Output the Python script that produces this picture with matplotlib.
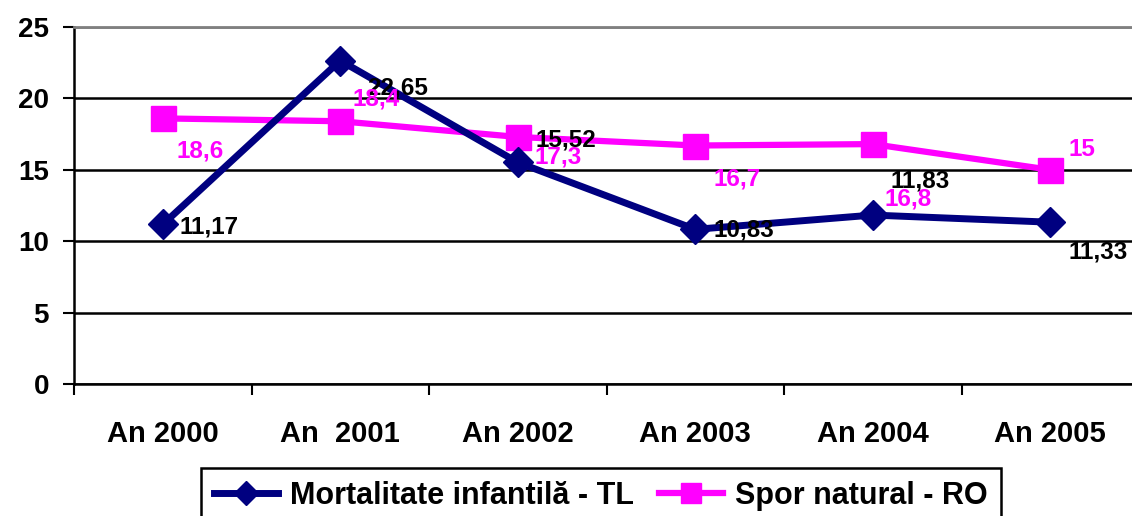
import matplotlib
matplotlib.use("Agg")
import matplotlib.pyplot as plt
from matplotlib.ticker import FixedLocator

# ---- data ----
categories = ["An 2000", "An  2001", "An 2002", "An 2003", "An 2004", "An 2005"]
mortalitate = [11.17, 22.65, 15.52, 10.83, 11.83, 11.33]
spor = [18.6, 18.4, 17.3, 16.7, 16.8, 15.0]
mort_labels = ["11,17", "22,65", "15,52", "10,83", "11,83", "11,33"]
spor_labels = ["18,6", "18,4", "17,3", "16,7", "16,8", "15"]
series_names = ["Mortalitate infantilă - TL", "Spor natural - RO"]
y_ticks = [0, 5, 10, 15, 20, 25]

# label offsets in pixels (text left edge, vertical centre) relative to point
mort_off = [(17, 0), (27, -25), (18, 25), (18, 2), (18, 37), (18, -27)]
spor_off = [(14, -30), (12, 25), (17, -18), (18, -31), (12, -52), (18, 23)]

NAVY = "#000080"
PINK = "#FF00FF"
FONT = "Liberation Sans"

W, H = 1132, 516
fig = plt.figure(figsize=(W / 100, H / 100), dpi=100)
plt.rcParams["font.family"] = [FONT, "DejaVu Sans"]

left_px, right_px, top_px, bot_px = 74, 1139, 27, 384
ax = fig.add_axes([left_px / W, 1 - bot_px / H, (right_px - left_px) / W, (bot_px - top_px) / H])

x = list(range(len(categories)))
ax.plot(x, mortalitate, color=NAVY, lw=5, marker="D", ms=15.5, mfc=NAVY, mec=NAVY,
        label=series_names[0], zorder=4, clip_on=False)
ax.plot(x, spor, color=PINK, lw=4.5, marker="s", ms=18, mfc=PINK, mec=PINK,
        label=series_names[1], zorder=3, clip_on=False)

for xi, v, t, (dx, dy) in zip(x, mortalitate, mort_labels, mort_off):
    ax.annotate(t, (xi, v), xytext=(dx, dy), textcoords="offset pixels",
                ha="left", va="center_baseline", fontsize=17.5, fontweight="bold",
                color="black", zorder=6, annotation_clip=False)
for xi, v, t, (dx, dy) in zip(x, spor, spor_labels, spor_off):
    ax.annotate(t, (xi, v), xytext=(dx, dy), textcoords="offset pixels",
                ha="left", va="center_baseline", fontsize=17.5, fontweight="bold",
                color=PINK, zorder=6, annotation_clip=False)

ax.set_xlim(-0.5, len(categories) - 0.5)
ax.set_ylim(0, 25)
ax.set_yticks(y_ticks)
ax.set_yticklabels([str(v) for v in y_ticks], fontsize=20, fontweight="bold")
ax.tick_params(axis="y", length=8, width=1.5, pad=10, direction="out")

# major ticks at category boundaries, labels at centres (minor)
ax.xaxis.set_major_locator(FixedLocator([i - 0.5 for i in range(len(categories) + 1)]))
ax.xaxis.set_minor_locator(FixedLocator(x))
ax.set_xticklabels([""] * (len(categories) + 1))
ax.set_xticklabels(categories, minor=True, fontsize=21, fontweight="bold")
ax.tick_params(axis="x", which="major", length=8, width=1.5, direction="out")
ax.tick_params(axis="x", which="minor", length=0, pad=26)

ax.grid(axis="y", color="black", lw=1.8, zorder=1)
ax.set_axisbelow(True)
gl = ax.yaxis.get_gridlines()
gl[-1].set_color("#808080")

ax.spines["right"].set_visible(False)
ax.spines["top"].set_color("#808080")
ax.spines["top"].set_linewidth(2)
ax.spines["left"].set_linewidth(1.8)
ax.spines["bottom"].set_linewidth(1.8)

leg = fig.legend(loc="upper left", bbox_to_anchor=(201 / W, 1 - 468 / H), ncol=2,
                 frameon=True, fancybox=False, edgecolor="black", framealpha=1,
                 prop={"family": FONT, "weight": "bold", "size": 22},
                 handlelength=2.1, handletextpad=0.4, columnspacing=0.8,
                 borderpad=0.42, borderaxespad=0, numpoints=1, markerscale=0.8)
leg.get_frame().set_linewidth(1.8)

fig.savefig("out.png", dpi=100)
